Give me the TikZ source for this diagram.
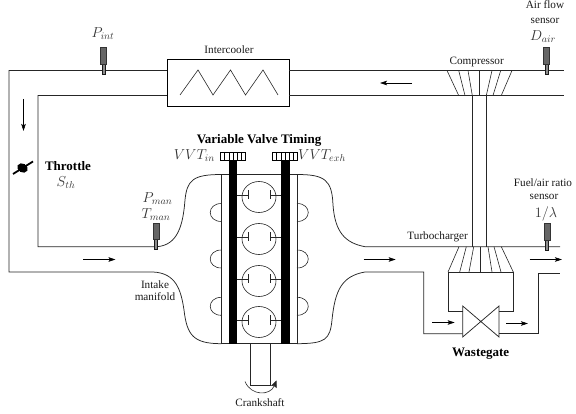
\documentclass[tikz,border=0pt]{standalone}
\usepackage[no-math]{fontspec}
\setmainfont{Liberation Serif}
\usetikzlibrary{arrows.meta}
\newcommand{\txtsz}{\fontsize{11.2}{12}\selectfont}
\newcommand{\bigsz}{\fontsize{13}{14}\selectfont}
\newcommand{\mthsz}{\fontsize{14.5}{16}\selectfont}
\tikzset{
  pipe/.style={draw=black!85,line width=0.75pt},
  thin line/.style={draw=black!85,line width=0.6pt},
  flow/.style={draw=black,line width=0.55pt,-{Stealth[length=7pt,width=4.5pt,inset=1.5pt]}},
  lbl/.style={inner sep=0pt,font=\txtsz,align=center,text=black!90},
  boldlbl/.style={inner sep=0pt,font=\bigsz\bfseries,text=black},
  mathlbl/.style={inner sep=0pt,font=\mthsz,text=black!80},
  sensorbody/.style={draw=black!80,fill=black!60,line width=0.5pt},
  sensorstem/.style={draw=black!90,fill=black!45,line width=0.5pt},
  bar/.style={fill=black,draw=none},
  cyl/.style={draw=black!85,line width=0.6pt},
}
\newcommand{\sensorat}[2]{%
  \filldraw[sensorstem] (#1-1.5,#2+16.5) rectangle (#1+1.5,#2+26.5);
  \filldraw[sensorbody] (#1-3,#2) rectangle (#1+3,#2+16.5);
}
\begin{document}
\begin{tikzpicture}[x=1pt,y=-1pt]
\useasboundingbox (0,0) rectangle (576,414);
% intake pipes
\draw[pipe] (167.5,70.5) -- (9,70.5) -- (9,272) -- (153,272)
  .. controls (176,273) and (181,290) .. (184,310)
  .. controls (187,335) and (193,343.7) .. (221.5,343.7);
\draw[pipe] (167.5,95.5) -- (38,95.5) -- (38,246.7) -- (157,246.7)
  .. controls (178,245) and (183,225) .. (185,200)
  .. controls (187,180) and (193,174.5) .. (221.5,174.5);
% intercooler
\node[draw=black,line width=0.75pt,minimum width=121.5pt,minimum height=46.5pt,inner sep=0pt] (ic) at (228.25,82.75) {};
\draw[thin line] (180,95) -- (198,70) -- (213,95) -- (230.5,70) -- (245.5,95) -- (263,70) -- (278,95);
% right pipes
\draw[pipe] (ic.east |- 0,70.5) -- (564,70.5);
\draw[pipe] (ic.east |- 0,95.5) -- (564,95.5);
% compressor
\foreach \a/\b in {447/458.7,458.7/465,468/472.3,479/479,492/486.3,500.7/493,512/501.3}
  \draw[thin line] (\a,70.5) -- (\b,95.5);
% shaft
\draw[pipe] (472.3,95.5) -- (472.3,246.7);
\draw[pipe] (486.3,95.5) -- (486.3,246.7);
% engine walls, top/bottom
\draw[pipe] (221.5,174.5) -- (221.5,343.7) -- (297,343.7) -- (297,174.5) -- cycle;
% exhaust side
\draw[pipe] (297,174.5) .. controls (325,174.5) and (332,180) .. (333,205)
  .. controls (335,232) and (345,243) .. (365,246.7) -- (560,246.7);
\draw[pipe] (297,343.7) .. controls (325,343.5) and (330,340) .. (332,320)
  .. controls (335,290) and (342,276) .. (365,272) -- (423.7,272) -- (423.7,333.7) -- (462.7,333.7);
% turbine
\foreach \a/\b in {459/448,466.3/459.7,473.7/469,480.3/480.3,488/492,494/501,501.3/513.3}
  \draw[thin line] (\a,246.7) -- (\b,272);
\draw[pipe] (462.7,311.7) -- (448,311.7) -- (448,272) -- (513.3,272) -- (513.3,311.7) -- (499,311.7);
\draw[pipe] (499,333.7) -- (538,333.7) -- (538,273.3) -- (560,273.3);
% wastegate valve
\draw[pipe,line join=miter] (462.7,306) -- (499,337) -- (499,306) -- (462.7,337) -- cycle;
% bumps
\foreach \yy in {212.5,259,306.3} {
  \draw[thin line] (221.5,\yy-9) .. controls (206.5,\yy-9) and (206.5,\yy+9) .. (221.5,\yy+9);
  \draw[thin line] (297,\yy-9) .. controls (312,\yy-9) and (312,\yy+9) .. (297,\yy+9);
}
% cylinders and valves
\foreach \yy in {197,239,281,322} {
  \draw[cyl] (259,\yy) ellipse (17 and 15.5);
  \draw[cyl] (236,\yy-2) -- (248.5,\yy-2) (248.5,\yy-6.5) -- (248.5,\yy+2.5);
  \draw[cyl] (282,\yy-2) -- (270,\yy-2) (270,\yy-6.5) -- (270,\yy+2.5);
}
% valve timing bars
\fill[bar] (229,160) rectangle (237,343.7);
\fill[bar] (281,160) rectangle (289.7,343.7);
\foreach \xa in {220.7,272.7} {
  \draw[draw=black,line width=0.7pt,fill=white] (\xa,152.7) rectangle (\xa+25,160);
  \foreach \k in {1,...,5} \draw[black,line width=1pt] (\xa+\k*4.17,152.7) -- (\xa+\k*4.17,160);
}
% crankshaft
\draw[pipe] (250.3,343.7) -- (250.3,385) -- (270.7,385) -- (270.7,343.7);
\draw[thin line,-{Stealth[length=7pt,width=6pt,inset=1pt]}] (245,381.5) .. controls (251,396) and (270,396) .. (276.5,380.5);
% throttle
\draw[black,line width=1.8pt] (13,174) -- (33,161.5);
\fill[black,rotate around={-30:(22.5,168)}] (22.5,168) ellipse (5.5 and 4.4);
% flow arrows
\draw[flow] (23.5,99) -- (23.5,131);
\draw[flow] (83,259.5) -- (115.5,259.5);
\draw[flow] (412,83) -- (380,83);
\draw[flow] (363.7,259.5) -- (395.7,259.5);
\draw[flow] (432.3,322.5) -- (454.7,322.5);
\draw[flow] (506,323.5) -- (528,323.5);
\draw[flow] (529.7,259.5) -- (562,259.5);
% sensors
\sensorat{103.5}{47.3}
\sensorat{546.5}{47.3}
\sensorat{156}{223}
\sensorat{547}{223.7}
% labels
\node[lbl] (l1) at (229,50) {Intercooler};
\node[lbl] (l2) at (476.7,61.5) {Compressor};
\node[lbl] (l3) at (545,5) {Air flow};
\node[lbl] (l4) at (545,20.5) {sensor};
\node[lbl] (l5) at (543,183) {Fuel/air ratio};
\node[lbl] (l6) at (544,196.5) {sensor};
\node[lbl,anchor=east] (l7) at (468,236.5) {Turbocharger};
\node[lbl] (l8) at (155,284.5) {Intake};
\node[lbl] (l9) at (155,297) {manifold};
\node[lbl] (l10) at (260,403) {Crankshaft};
\node[boldlbl] (b1) at (259,140) {Variable Valve Timing};
\node[boldlbl] (b2) at (68,166.5) {Throttle};
\node[boldlbl] (b3) at (480.7,353.7) {Wastegate};
\node[mathlbl] (m1) at (103,34) {$P_{int}$};
\node[mathlbl] (m2) at (543,37) {$D_{air}$};
\node[mathlbl] (m3) at (66,183) {$S_{th}$};
\node[mathlbl] (m4) at (157.5,199) {$P_{man}$};
\node[mathlbl] (m5) at (156,214.5) {$T_{man}$};
\node[mathlbl,anchor=east] (m6) at (215,156) {$VVT_{in}$};
\node[mathlbl,anchor=west] (m7) at (298,156) {$VVT_{exh}$};
\node[mathlbl] (m8) at (546,214) {$1/\lambda$};
\end{tikzpicture}
\end{document}
